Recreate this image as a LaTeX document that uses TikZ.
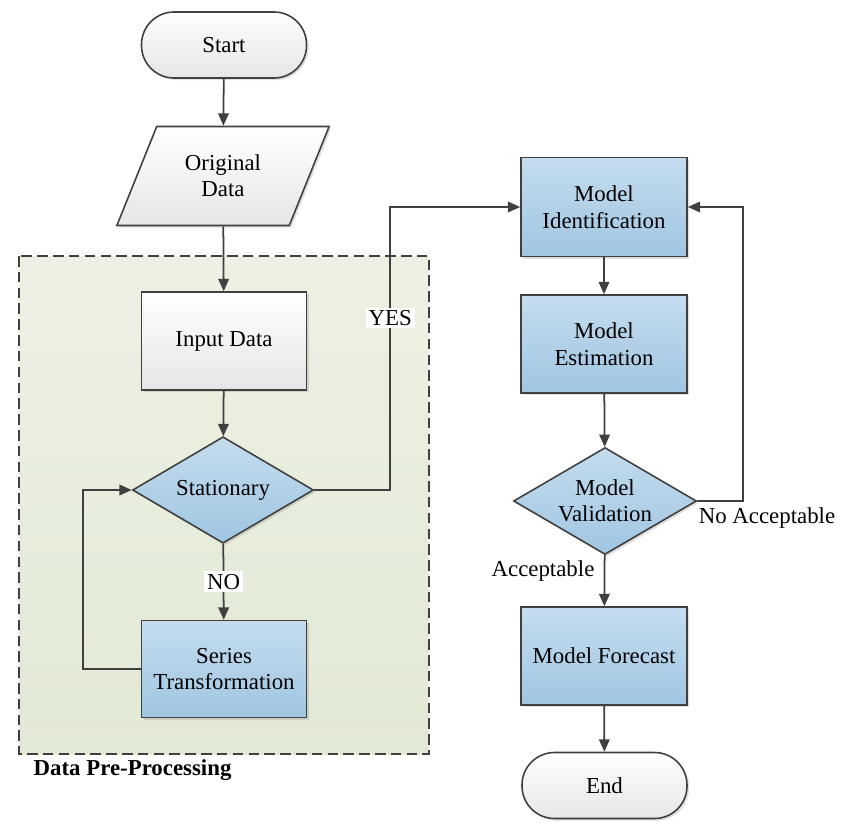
\documentclass[tikz,border=0pt]{standalone}
\usepackage{xcolor}
\usepackage{tikz}
\usepackage{fontspec}
\setmainfont{Liberation Serif}
\usetikzlibrary{shapes.geometric, arrows.meta, positioning, shadows}
\definecolor{linegray}{RGB}{64, 64, 64}
\definecolor{bluetop}{RGB}{196, 220, 238}
\definecolor{bluebot}{RGB}{160, 198, 226}
\definecolor{greytop}{RGB}{255, 255, 255}
\definecolor{greybot}{RGB}{230, 230, 230}
\definecolor{regiontop}{RGB}{237, 241, 228}
\definecolor{regionbot}{RGB}{226, 233, 213}

\begin{document}
\begin{tikzpicture}[
    font=\fontsize{13}{15}\selectfont,
    shade/.style={drop shadow={shadow xshift=1.2pt, shadow yshift=-1.2pt, opacity=0.25}},
    box/.style={rectangle, draw=linegray, line width=0.9pt, minimum width=3.3cm, minimum height=1.96cm, align=center, top color=bluetop, bottom color=bluebot, shade},
    plainbox/.style={box, top color=greytop, bottom color=greybot},
    terminal/.style={rectangle, draw=linegray, line width=0.9pt, rounded corners=0.65cm, minimum width=3.3cm, minimum height=1.32cm, align=center, top color=greytop, bottom color=greybot, shade},
    io/.style={trapezium, trapezium left angle=64, trapezium right angle=116, trapezium stretches=true, draw=linegray, line width=0.9pt, minimum width=4.28cm, minimum height=1.98cm, align=center, top color=greytop, bottom color=greybot, shade},
    decision/.style={diamond, aspect=1.7, inner sep=0pt, draw=linegray, line width=0.9pt, minimum width=3.62cm, minimum height=2.13cm, align=center, top color=bluetop, bottom color=bluebot, shade},
    region/.style={draw=linegray, line width=0.9pt, dash pattern=on 6pt off 3pt, top color=regiontop, bottom color=regionbot},
    lbl/.style={inner sep=1.5pt},
    arrow/.style={-{Triangle[length=7pt, width=6pt]}, draw=linegray, line width=1pt}
]
    \useasboundingbox (0, 0) rectangle (17, -16.68);

    % Pre-processing region
    \draw[region] (0.38, -5.12) rectangle (8.58, -15.08);
    \node[font=\fontsize{13}{15}\selectfont\bfseries, anchor=west] (prep) at (0.55, -15.40) {Data Pre-Processing};

    % Left column
    \node[terminal] (start) at (4.48, -0.90) {Start};
    \node[io] (orig) at (4.46, -3.52) {Original\\Data};
    \node[plainbox] (input) at (4.48, -6.82) {Input Data};
    \node[decision] (stat) at (4.46, -9.80) {Stationary};
    \node[box, minimum height=1.94cm] (series) at (4.48, -13.38) {Series\\Transformation};

    % Right column
    \node[box, minimum width=3.32cm, minimum height=1.98cm] (ident) at (12.08, -4.14) {Model\\Identification};
    \node[box, minimum width=3.32cm] (estim) at (12.08, -6.88) {Model\\Estimation};
    \node[decision, minimum width=3.66cm, minimum height=2.14cm] (valid) at (12.10, -10.02) {Model\\Validation};
    \node[box, minimum width=3.32cm] (fore) at (12.08, -13.12) {Model Forecast};
    \node[terminal] (end) at (12.09, -15.71) {End};

    % Arrows
    \draw[arrow] (start) -- (orig);
    \draw[arrow] (orig) -- (input);
    \draw[arrow] (input) -- (stat);
    \draw[arrow] (stat) -- node[lbl, fill=white] (no) {NO} (series);
    \draw[arrow] (series.west) -- ++(-1.16, 0) |- (stat.west);
    \draw[arrow] (stat.east) -- ++(1.52, 0) |- node[lbl, fill=white, pos=0.304] (yes) {YES} (ident.west);

    \draw[arrow] (ident) -- (estim);
    \draw[arrow] (estim) -- (valid);
    \draw[arrow] (valid.east) -- ++(0.91, 0) |- (ident.east);
    \draw[arrow] (valid) -- (fore);
    \draw[arrow] (fore) -- (end);

    % Outcome labels
    \node[lbl] (noacc) at (15.34, -10.36) {No Acceptable};
    \node[lbl] (acc) at (10.86, -11.42) {Acceptable};

\end{tikzpicture}
\end{document}
